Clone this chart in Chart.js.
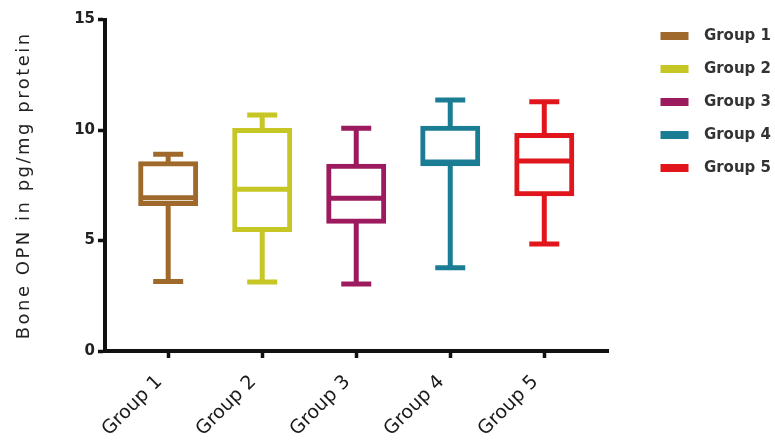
<!DOCTYPE html>
<html><head><meta charset="utf-8">
<script src="https://cdn.jsdelivr.net/npm/chart.js@4.4.1/dist/chart.umd.min.js"></script>
<style>html,body{margin:0;padding:0;background:#fff;} #wrap{width:775px;height:443px;position:relative;}</style>
</head><body><div id="wrap"><canvas id="c"></canvas></div>
<script>
const categories = ['Group 1', 'Group 2', 'Group 3', 'Group 4', 'Group 5'];
const mins    = [3.14, 3.12, 3.03, 3.77, 4.84];
const q1s     = [6.65, 5.48, 5.85, 8.45, 7.09];
const medians = [6.94, 7.32, 6.91, 8.55, 8.60];
const q3s     = [8.49, 10.00, 8.38, 10.10, 9.77];
const maxs    = [8.90, 10.68, 10.08, 11.36, 11.28];
const yTicks  = [0, 5, 10, 15];
const colors  = ['#A0692C', '#C6C624', '#9C1A5E', '#1B7D93', '#E0161C'];

const boxPlugin = {
  id: 'boxWhiskers',
  afterDatasetsDraw(chart) {
    const {ctx, scales: {x, y}} = chart;
    ctx.save();
    ctx.lineWidth = 5;
    ctx.lineCap = 'butt';
    categories.forEach((c, i) => {
      const cx = x.getPixelForValue(i + 1);
      const pMin = y.getPixelForValue(mins[i]);
      const pQ1 = y.getPixelForValue(q1s[i]);
      const pMed = y.getPixelForValue(medians[i]);
      const pQ3 = y.getPixelForValue(q3s[i]);
      const pMax = y.getPixelForValue(maxs[i]);
      ctx.strokeStyle = colors[i];
      ctx.beginPath();
      ctx.moveTo(cx, pQ3); ctx.lineTo(cx, pMax);
      ctx.moveTo(cx - 15, pMax); ctx.lineTo(cx + 15, pMax);
      ctx.moveTo(cx, pQ1); ctx.lineTo(cx, pMin);
      ctx.moveTo(cx - 15, pMin); ctx.lineTo(cx + 15, pMin);
      ctx.moveTo(cx - 28, pMed); ctx.lineTo(cx + 28, pMed);
      ctx.stroke();
    });
    ctx.restore();
  }
};

const spacingPlugin = {
  id: 'titleSpacing',
  afterLayout(chart) {
    const lg = chart.legend;
    if (lg) { lg.top -= 9; lg.bottom -= 9; }
  },
  beforeDraw(chart) {
    const s = chart.scales.y;
    if (s && !s._spaced) {
      const orig = s.drawTitle.bind(s);
      s.drawTitle = function () {
        const c = this.ctx;
        const old = c.letterSpacing;
        c.letterSpacing = '2.5px';
        orig();
        c.letterSpacing = old || '0px';
      };
      s._spaced = true;
    }
  }
};

const gridOpts = {display: true, drawOnChartArea: false, drawTicks: true, offset: false, tickLength: 7, tickWidth: 3.5, tickColor: '#111'};
const borderOpts = {display: true, color: '#111', width: 4};

new Chart(document.getElementById('c'), {
  type: 'bar',
  data: {
    datasets: categories.map((c, i) => ({
      label: c,
      data: [{x: i + 1, y: [q1s[i], q3s[i]]}],
      backgroundColor: 'rgba(0,0,0,0)',
      borderColor: colors[i],
      borderWidth: 1,
      inflateAmount: 2,
      borderSkipped: false,
      barThickness: 56,
      grouped: false
    }))
  },
  options: {
    responsive: true,
    maintainAspectRatio: false,
    animation: false,
    layout: {padding: {top: 19.5, right: 4, bottom: 0, left: 0}},
    plugins: {
      legend: {
        position: 'right', align: 'start',
        labels: {
          boxWidth: 28, boxHeight: 8, padding: 18, color: '#333', textAlign: 'right',
          font: {family: 'DejaVu Sans', size: 15, weight: 'bold'},
          generateLabels(chart) {
            return chart.data.datasets.map((d, i) => ({
              text: d.label, fillStyle: d.borderColor, strokeStyle: d.borderColor,
              lineWidth: 0, datasetIndex: i, hidden: false, fontColor: '#333'
            }));
          }
        }
      },
      tooltip: {enabled: false}
    },
    scales: {
      x: {
        type: 'linear', min: 0.328, max: 5.683, offset: false,
        afterBuildTicks(s) { s.ticks = categories.map((c, i) => ({value: i + 1})); },
        afterFit(s) { s.height = 92; },
        ticks: {
          autoSkip: false, maxRotation: 45, minRotation: 45, padding: 13, labelOffset: -9,
          callback: (v) => categories[v - 1],
          color: '#1a1a1a', font: {family: 'DejaVu Sans', size: 19}
        },
        grid: gridOpts, border: borderOpts
      },
      y: {
        min: 0, max: 15,
        afterBuildTicks(s) { s.ticks = yTicks.map(v => ({value: v})); },
        afterFit(s) { s.width = 105; },
        ticks: {color: '#222', padding: 3, font: {family: 'DejaVu Sans', size: 15, weight: 'bold'}},
        grid: gridOpts, border: borderOpts,
        title: {display: true, text: 'Bone OPN in pg/mg protein', color: '#222',
                font: {family: 'DejaVu Sans', size: 18}, padding: {top: 14, bottom: 0}}
      },
      spacer: {
        type: 'linear', axis: 'y', position: 'right', display: true,
        grid: {display: false}, border: {display: false}, ticks: {display: false},
        afterFit(s) { s.width = 34; }
      }
    }
  },
  plugins: [boxPlugin, spacingPlugin]
});
</script>
</body></html>
